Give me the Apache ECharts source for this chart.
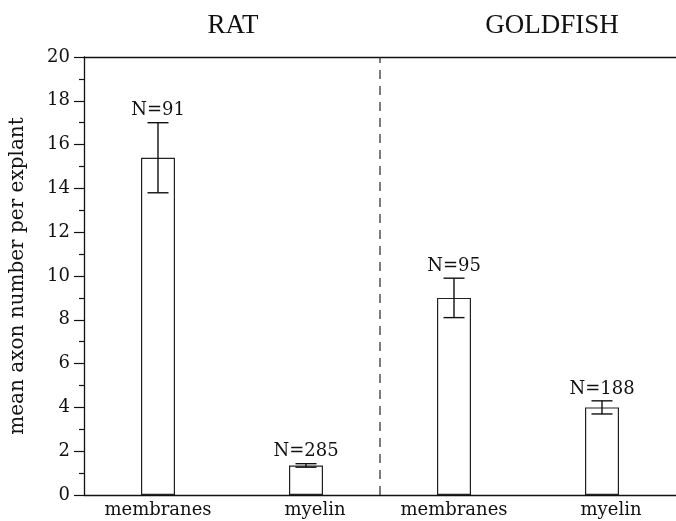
<!DOCTYPE html>
<html>
<head>
<meta charset="utf-8">
<script src="https://cdn.jsdelivr.net/npm/echarts@6/dist/echarts.min.js"></script>
<style>
  html, body { margin: 0; padding: 0; background: #fff; }
  #chart { width: 676px; height: 521px; }
</style>
</head>
<body>
<div id="chart"></div>
<script>
const categories = ['membranes', 'myelin', 'membranes', 'myelin'];
const groupTitles = ['RAT', 'GOLDFISH'];
const meanValues = [15.4, 1.35, 9.0, 4.0];
const errorValues = [1.6, 0.08, 0.9, 0.3];
const nLabels = ['N=91', 'N=285', 'N=95', 'N=188'];
const yTicks = [0, 2, 4, 6, 8, 10, 12, 14, 16, 18, 20];
const dividerAt = 2;

const SERIF = 'DejaVu Serif';
const chart = echarts.init(document.getElementById('chart'));

const errData = meanValues.map((m, i) => [i, m, errorValues[i], nLabels[i]]);

chart.setOption({
  animation: false,
  backgroundColor: '#fff',
  title: [
    { text: groupTitles[0], left: 228, top: 7, textAlign: 'center',
      textStyle: { fontFamily: 'Liberation Serif', fontSize: 27, fontWeight: 'normal', color: '#111' } },
    { text: groupTitles[1], left: 547, top: 7, textAlign: 'center',
      textStyle: { fontFamily: 'Liberation Serif', fontSize: 27, fontWeight: 'normal', color: '#111' } }
  ],
  grid: { left: 81, top: 57, width: 600, height: 438 },
  xAxis: [
    {
      type: 'category', data: categories, position: 'bottom',
      axisLine: { lineStyle: { color: '#111', width: 1.3 } },
      axisTick: { show: false },
      axisLabel: {
        fontFamily: SERIF, fontSize: 18, color: '#111', margin: 6,
        formatter: function (v, i) { return i % 2 ? '{r|' + v + '}' : v; },
        rich: { r: { fontFamily: SERIF, fontSize: 18, color: '#111', padding: [0, 0, 0, 18] } }
      }
    },
    {
      type: 'category', data: categories, position: 'top',
      axisLine: { show: true, lineStyle: { color: '#111', width: 1.3 } },
      axisTick: { show: false }, axisLabel: { show: false }
    },
    {
      type: 'value', min: 0, max: categories.length, show: false
    }
  ],
  yAxis: {
    type: 'value', min: yTicks[0], max: yTicks[yTicks.length - 1], interval: 2,
    name: 'mean axon number per explant', nameLocation: 'middle', nameGap: 56,
    nameTextStyle: { fontFamily: SERIF, fontSize: 20, color: '#111' },
    axisLine: { show: true, lineStyle: { color: '#111', width: 1.3 } },
    axisTick: { show: true, length: 10, lineStyle: { color: '#111', width: 1.2 } },
    minorTick: { show: true, splitNumber: 2, length: 5, lineStyle: { color: '#111', width: 1.2 } },
    splitLine: { show: false },
    axisLabel: { fontFamily: SERIF, fontSize: 18, color: '#111', margin: 14 }
  },
  series: [
    {
      type: 'bar', data: meanValues, barWidth: 34, xAxisIndex: 0,
      itemStyle: { color: '#fff', borderColor: '#222', borderWidth: 1.2 }
    },
    {
      type: 'custom', xAxisIndex: 0, data: errData, z: 5,
      renderItem: function (params, api) {
        const i = api.value(0), m = api.value(1), e = api.value(2);
        const top = api.coord([i, m + e]);
        const bot = api.coord([i, m - e]);
        const hw = 10.5;
        const ls = { stroke: '#111', lineWidth: 1.4 };
        return {
          type: 'group',
          children: [
            { type: 'line', shape: { x1: top[0], y1: top[1], x2: bot[0], y2: bot[1] }, style: ls },
            { type: 'line', shape: { x1: top[0] - hw, y1: top[1], x2: top[0] + hw, y2: top[1] }, style: ls },
            { type: 'line', shape: { x1: bot[0] - hw, y1: bot[1], x2: bot[0] + hw, y2: bot[1] }, style: ls },
            { type: 'text', x: top[0], y: top[1] - 3,
              style: { text: errData[params.dataIndex][3], fill: '#111', font: '18px "' + SERIF + '"',
                       align: 'center', verticalAlign: 'bottom' } }
          ]
        };
      }
    },
    {
      type: 'line', xAxisIndex: 2, data: [[dividerAt, yTicks[0]], [dividerAt, yTicks[yTicks.length - 1]]],
      symbol: 'none', lineStyle: { color: '#222', width: 1.2, type: [9, 7] }
    }
  ]
});
</script>
</body>
</html>
